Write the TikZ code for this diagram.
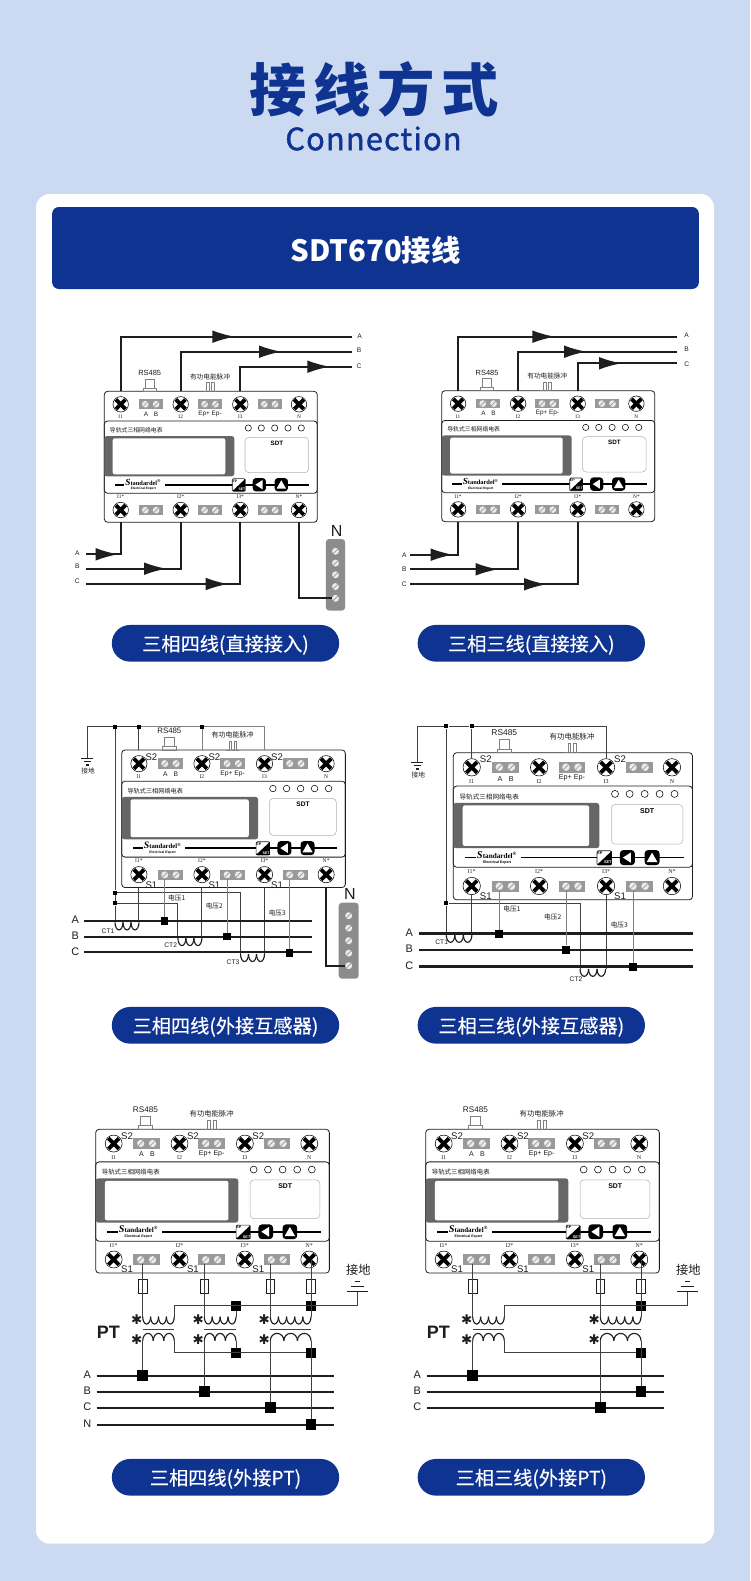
\documentclass[tikz,border=0pt]{standalone}
\usepackage{fontspec}
\usepackage{xcolor}
\usepackage{tikz}
\usetikzlibrary{arrows.meta}
\setmainfont{Liberation Sans}
\newfontfamily\cjk{Noto Sans CJK SC}
\newfontfamily\serifsmall{Liberation Serif}
\newfontfamily\symfont{DejaVu Sans}
\definecolor{navy}{HTML}{0F3390}
\definecolor{bgblue}{HTML}{CBDAF1}
\definecolor{panelgrey}{HTML}{666666}
\definecolor{portgrey}{HTML}{999999}
\definecolor{busgrey}{HTML}{8C8C8C}
\definecolor{inkdark}{HTML}{1E1E1E}

\newcommand{\meter}[4]{%
\begin{scope}[shift={(#2,#3)},scale=#4,every node/.append style={transform shape}]
\draw[casing,fill=white] (0,0) rectangle (213,131);
\draw[casing] (0,29.7) rectangle (213,102);
\fill[panelgrey,rounded corners=2pt] (0,44.7) rectangle (130,85);
\fill[white,rounded corners=1.5pt] (8.4,47) rectangle (121,83);
\draw[draw=gray!60,line width=.4pt,rounded corners=3pt] (140.7,46) rectangle (204.4,81.4);
\node[tinycjk](#1-name) at (32,39){\cjk 导轨式三相网络电表};
\node[tinybold](#1-sdt) at (172.7,52){SDT};
\foreach \k/\xx/\txt/\txb in {1/16.4/I1/I1*,2/76.4/I2/I2*,3/136/I3/I3*,4/194.7/N/N*}{
  \node[screw](#1-i\k) at (\xx,13){};
  \node[tinyserif](#1-il\k) at (\xx,25.7){\txt};
  \node[screw](#1-o\k) at (\xx,118.7){};
  \node[tinyserif](#1-ol\k) at (\xx,105.7){\txb};
  \coordinate (#1-t\k) at (\xx,0);
  \coordinate (#1-b\k) at (\xx,131);
}
\foreach \k/\xx in {1/46.4,2/105.7,3/165.4}{
  \node[portbox](#1-qt\k) at (\xx,12.9){};
  \node[hatch](#1-qa\k) at (\xx-5.4,12.9){};
  \node[hatch](#1-qb\k) at (\xx+5.4,12.9){};
  \node[portbox](#1-pt\k) at (\xx,118.9){};
  \node[hatch](#1-pa\k) at (\xx-5.4,118.9){};
  \node[hatch](#1-pb\k) at (\xx+5.4,118.9){};
}
\node[tinylabel](#1-la) at (41.7,23){A};
\node[tinylabel](#1-lb) at (51.7,23){B};
\node[tinylabel](#1-lep) at (105.7,22.6){Ep+ Ep-};
\foreach \k/\xx in {1/144,2/157,3/170.4,4/183.7,5/197}{
  \node[led](#1-led\k) at (\xx,36.7){};
}
\draw[line width=1.2pt] (10.7,93.4) -- (20,93.4);
\draw[line width=1.2pt] (60.7,93.4) -- (205,93.4);
\node[logotext](#1-logo) at (39,91.2){{\itshape\fontsize{7}{7}\selectfont S}tandardel\textsuperscript{\textregistered}};
\node[logosub](#1-logob) at (39,97.6){Electrical Expert};
\node[epbox](#1-ep) at (134.4,93.7){};
\fill[black] (141,87.6) -- (141,99.8) -- (128,99.8) -- cycle;
\node[eptext,text=black](#1-epa) at (130.6,89.6){EP};
\node[eptext,text=white](#1-epb) at (137.6,97.9){SET};
\node[keybtn](#1-kl) at (155,93.4){};
\node[keybtn](#1-ku) at (177,93.4){};
\fill[white] (151,93.4) -- (158.2,88.8) -- (158.2,98) -- cycle;
\fill[white] (177,89) -- (172.2,97.4) -- (181.8,97.4) -- cycle;
\node[rslabel](#1-rs) at (45.4,-18){RS485};
\draw[line width=.35pt,draw=gray] (40.7,-12.3) rectangle (49.7,-3.3);
\draw[line width=.35pt,draw=gray] (38.7,-3.3) rectangle (51.7,0);
\node[pulselabel](#1-pl) at (105.7,-14.5){\cjk 有功电能脉冲};
\draw[line width=.35pt,draw=gray] (99.7,0) -- (102,0) -- (102,-8.6) -- (104.5,-8.6) -- (104.5,0) -- (107,0) -- (107,-8.6) -- (109.5,-8.6) -- (109.5,0) -- (111.7,0);
\end{scope}}

\newcommand{\coil}[5]{%
\foreach \k in {1,...,#2}{
  \pgfmathsetmacro{\dx}{(\k-1)*2*#3}
  \draw[coilline] ([xshift=\dx pt]#1) arc[start angle=180,end angle=#5,x radius=#3pt,y radius=#4pt];
}}

\newcommand{\grd}[5]{%
\coordinate (#1) at (#2,#3);
\draw[gndline] (#2-#4*.5,#3) -- (#2+#4*.5,#3);
\draw[gndline] (#2-#4*.3,#3+#5) -- (#2+#4*.3,#3+#5);
\draw[gndline] (#2-#4*.13,#3+#5*2) -- (#2+#4*.13,#3+#5*2);
}

\newcommand{\busbar}[6]{%
\node[busbox,minimum width=#4,minimum height=#5](#1) at (#2,#3){};
\foreach \k in {-2,...,2}{
  \node[hatch,minimum size=5.2pt](#1-c\k) at (#2,#3+\k*#6){};
}}

\newcommand{\ptunit}[6]{%
\coordinate (#1-pl) at (#2,1316.7);
\coordinate (#1-pr) at (#3,1316.7);
\coordinate (#1-sl) at (#2,1340.7);
\coordinate (#1-sr) at (#3,1340.7);
\coil{#1-pl}{#4}{#5}{5.5}{360}
\coil{#1-sl}{3}{#6}{5.5}{0}
\draw[thinwire] (#2,1329.3) -- (#3,1329.3);
\node[starmark](#1-sa) at (#2-6,1319.5){✱};
\node[starmark](#1-sb) at (#2-6,1340){✱};
}

\begin{document}
\begin{tikzpicture}[x=.75pt,y=-.75pt]
\tikzset{>={Latex[width=9.5pt,length=17pt]}}
\tikzstyle{casing}=[draw=inkdark,line width=.6pt,rounded corners=2.5pt]
\tikzstyle{screw}=[circle,draw=black,line width=.4pt,fill=white,inner sep=0pt,minimum size=11.6pt,
  path picture={\draw[line width=2.9pt] (path picture bounding box.north west) ++(2.2pt,-2.2pt) -- ++(7.2pt,-7.2pt);
  \draw[line width=2.9pt] (path picture bounding box.north east) ++(-2.2pt,-2.2pt) -- ++(-7.2pt,-7.2pt);}]
\tikzstyle{portbox}=[fill=portgrey,inner sep=0pt,minimum width=18pt,minimum height=7.3pt]
\tikzstyle{hatch}=[circle,fill=white!92!black,inner sep=0pt,minimum size=5pt,
  path picture={\draw[gray!80,line width=.5pt] (path picture bounding box.south west) -- (path picture bounding box.north east);}]
\tikzstyle{led}=[circle,draw=black,line width=.4pt,inner sep=0pt,minimum size=4.7pt]
\tikzstyle{tinycjk}=[inner sep=0pt,font=\fontsize{4.4}{4.4}\selectfont,text=inkdark]
\tikzstyle{tinybold}=[inner sep=0pt,font=\fontsize{4.7}{4.7}\selectfont\bfseries]
\tikzstyle{tinyserif}=[inner sep=0pt,font=\fontsize{4}{4}\selectfont\serifsmall,text=inkdark]
\tikzstyle{tinylabel}=[inner sep=0pt,font=\fontsize{4.8}{4.8}\selectfont,text=inkdark]
\tikzstyle{rslabel}=[inner sep=0pt,font=\fontsize{5.6}{5.6}\selectfont,text=inkdark]
\tikzstyle{pulselabel}=[inner sep=0pt,font=\fontsize{5}{5}\selectfont,text=inkdark]
\tikzstyle{logotext}=[inner sep=0pt,font=\fontsize{4.8}{4.8}\selectfont\serifsmall\bfseries]
\tikzstyle{logosub}=[inner sep=0pt,font=\fontsize{2.4}{2.4}\selectfont\bfseries]
\tikzstyle{epbox}=[draw=inkdark,line width=.5pt,fill=white,rounded corners=1pt,inner sep=0pt,minimum size=9.6pt]
\tikzstyle{eptext}=[inner sep=0pt,font=\fontsize{2.6}{2.6}\selectfont\bfseries]
\tikzstyle{keybtn}=[fill=black,rounded corners=2.5pt,inner sep=0pt,minimum size=10pt]
\tikzstyle{wire}=[line width=1.45pt,draw=inkdark]
\tikzstyle{sig}=[line width=.7pt,draw=inkdark!85]
\tikzstyle{thinwire}=[line width=.75pt,draw=inkdark!85]
\tikzstyle{tapline}=[line width=.5pt,draw=gray]
\tikzstyle{coilline}=[line width=.85pt,draw=inkdark]
\tikzstyle{gndline}=[line width=.9pt,draw=inkdark]
\tikzstyle{phasewire}=[line width=1.3pt,draw=inkdark]
\tikzstyle{jct}=[rectangle,fill=black,inner sep=0pt,minimum size=3pt]
\tikzstyle{sq}=[rectangle,fill=black,inner sep=0pt,minimum size=5.6pt]
\tikzstyle{sqb}=[rectangle,fill=black,inner sep=0pt,minimum size=8pt]
\tikzstyle{fuse}=[draw=inkdark,line width=.5pt,inner sep=0pt,minimum width=6.5pt,minimum height=10.7pt]
\tikzstyle{busbox}=[fill=busgrey,rounded corners=2.5pt,inner sep=0pt]
\tikzstyle{phase}=[inner sep=3pt,font=\fontsize{5}{5}\selectfont,text=inkdark]
\tikzstyle{phaseb}=[inner sep=2pt,font=\fontsize{8.2}{8.2}\selectfont,text=inkdark]
\tikzstyle{phasec}=[inner sep=2pt,font=\fontsize{9}{9}\selectfont,text=inkdark]
\tikzstyle{smallcjk}=[inner sep=0pt,font=\fontsize{5}{5}\selectfont\cjk,text=inkdark]
\tikzstyle{ctlabel}=[inner sep=0pt,font=\fontsize{5}{5}\selectfont,text=inkdark]
\tikzstyle{slabel}=[inner sep=0pt,font=\fontsize{7.2}{7.2}\selectfont,text=inkdark]
\tikzstyle{nlabel}=[inner sep=0pt,font=\fontsize{12}{12}\selectfont,text=inkdark]
\tikzstyle{starmark}=[inner sep=0pt,font=\fontsize{10}{10}\selectfont\symfont,text=inkdark]
\tikzstyle{pill}=[fill=navy,rounded corners=13.7pt,inner sep=0pt,minimum width=170.5pt,minimum height=27.5pt,text height=13pt,text depth=1.4pt,text=white,font=\fontsize{14.4}{14.4}\selectfont\cjk\addfontfeature{FakeBold=.35}]

\useasboundingbox (0,0) rectangle (750,1581);
\fill[bgblue] (0,0) rectangle (750,1581);
\fill[white,rounded corners=10pt] (36,194) rectangle (714,1543.7);
\node[inner sep=0pt,text=navy,font=\fontsize{43}{43}\selectfont\cjk\bfseries](title) at (374.5,89){接\hspace{5pt}线\hspace{5pt}方\hspace{5pt}式};
\node[inner sep=0pt,text=navy,font=\fontsize{23}{23}\selectfont\cjk](subtitle) at (373.5,138.5){\addfontfeature{LetterSpace=4,FakeBold=1.4}Connection};
\node[fill=navy,rounded corners=5pt,inner sep=0pt,minimum width=485pt,minimum height=61.5pt,text height=22pt,text depth=2.2pt,text=white,font=\fontsize{22}{22}\selectfont\cjk\bfseries](head) at (375.5,248){SDT670接线};

\node[pill](pa) at (225.5,643.3){三相四线(直接接入)};
\node[pill](pb) at (531.3,643.3){三相三线(直接接入)};
\node[pill](pc) at (225.5,1025.3){三相四线(外接互感器)};
\node[pill](pd) at (531.3,1025.3){三相三线(外接互感器)};
\node[pill](pe) at (225.5,1477.3){三相四线(外接PT)};
\node[pill](pf) at (531.3,1477.3){三相三线(外接PT)};

\meter{ma}{104.3}{391.3}{1}
\foreach \n/\p/\lx/\ly/\wy/\tip in {1/A/359.7/336.7/336.7/235,2/B/359/350.7/351.7/281.7,3/C/359/365.7/366.7/330}{
  \node[phase](ma-tl\n) at (\lx,\ly){\p};
  \coordinate (ma-ta\n) at (\tip,\wy);
  \coordinate (ma-te\n) at (352.3,\wy);
  \draw[wire] (ma-t\n) |- (ma-te\n);
  \draw[wire,->] (ma-t\n) |- (ma-ta\n);
}
\foreach \n/\p/\ly/\wy/\tip in {1/A/552.7/554.3/118.3,2/B/566/568.7/166.7,3/C/581/584/228.3}{
  \node[phase](ma-bl\n) at (77.3,\ly){\p};
  \coordinate (ma-bs\n) at (86,\wy);
  \coordinate (ma-ba\n) at (\tip,\wy);
  \draw[wire] (ma-bs\n) -| (ma-b\n);
  \draw[wire,->] (ma-bs\n) -- (ma-ba\n);
}
\busbar{ma-bus}{335.5}{574.8}{14.5pt}{53.7pt}{11.75}
\node[nlabel](ma-n) at (336.7,530.7){N};
\draw[wire] (ma-b4) |- (ma-bus-c2);

\meter{mb}{441.7}{390.7}{1}
\foreach \n/\p/\ly/\wy/\tip in {1/A/335/336.7/555,2/B/349/351.7/586.7,3/C/364.3/363.3/621.7}{
  \node[phase](mb-tl\n) at (686.7,\ly){\p};
  \coordinate (mb-ta\n) at (\tip,\wy);
  \coordinate (mb-te\n) at (677.3,\wy);
  \draw[wire] (mb-t\n) |- (mb-te\n);
  \draw[wire,->] (mb-t\n) |- (mb-ta\n);
}
\foreach \n/\p/\wy/\tip in {1/A/554.7/453.3,2/B/569.3/498.3,3/C/584.3/546.7}{
  \node[phase](mb-bl\n) at (404.3,\wy){\p};
  \coordinate (mb-bs\n) at (410,\wy);
  \coordinate (mb-ba\n) at (\tip,\wy);
  \draw[wire] (mb-bs\n) -| (mb-b\n);
  \draw[wire,->] (mb-bs\n) -- (mb-ba\n);
}

\meter{mc}{121.7}{750}{1.05}
\foreach \n in {1,2,3}{
  \node[slabel](mc-s2\n) at ([shift={(12.5,-6.8)}]mc-i\n){S2};
  \node[slabel](mc-s1\n) at ([shift={(12.5,10.2)}]mc-o\n){S1};
}
\grd{mc-g}{87.3}{758.3}{12}{3.3}
\node[smallcjk](mc-gl) at (88,771){接地};
\node[jct](mc-j1) at (115,726.7){};
\node[jct](mc-j2) at (mc-t1 |- 0,726.7){};
\node[jct](mc-j3) at (mc-t2 |- 0,726.7){};
\node[jct](mc-j4) at (115,892.7){};
\node[jct](mc-j5) at (115,903.3){};
\draw[sig] (mc-g) |- (mc-j1) -- (mc-j2);
\draw[tapline] (mc-j2) -- (mc-j3) -| (mc-t3);
\draw[sig] (mc-j2) -- (mc-t1);
\draw[tapline] (mc-j3) -- (mc-t2);
\coordinate (mc-ct1) at (115,922.3);
\coordinate (mc-ct2) at (177.9,938);
\coordinate (mc-ct3) at (240.5,954);
\coil{mc-ct1}{3}{3}{5.7}{360}
\coil{mc-ct2}{3}{3}{5.7}{360}
\coil{mc-ct3}{3}{3}{5.7}{360}
\draw[sig] (mc-j1) -- (mc-j4) -- (mc-j5) -- (mc-ct1);
\draw[sig] (mc-j5) -| (mc-ct2);
\draw[sig] (mc-j4) -| (mc-ct3);
\draw[sig] (mc-b1) -- (mc-b1 |- mc-ct1);
\draw[sig] (mc-b2) -- (mc-b2 |- mc-ct2);
\draw[sig] (mc-b3) -- (mc-b3 |- mc-ct3);
\foreach \n/\p/\ly/\wy in {1/A/919.3/921,2/B/935.3/936.7,3/C/951.7/952.3}{
  \node[phaseb](mc-l\n) at (75.3,\ly){\p};
  \coordinate (mc-s\n) at (84,\wy);
  \coordinate (mc-e\n) at (311.7,\wy);
  \draw[phasewire] (mc-s\n) -- (mc-e\n);
}
\node[sq](mc-v1) at (mc-pa1 |- 0,921){};
\node[sq](mc-v2) at (mc-pa2 |- 0,936.7){};
\node[sq](mc-v3) at (mc-pa3 |- 0,953){};
\draw[tapline] (mc-pa1.south) -- (mc-v1);
\draw[tapline] (mc-pa2.south) -- (mc-v2);
\draw[tapline] (mc-pa3.south) -- (mc-v3);
\node[smallcjk](mc-u1) at (176.7,898.3){电压1};
\node[smallcjk](mc-u2) at (214.3,905.7){电压2};
\node[smallcjk](mc-u3) at (277.3,913.3){电压3};
\node[ctlabel](mc-c1) at (108,930.7){CT1};
\node[ctlabel](mc-c2) at (170.7,945.3){CT2};
\node[ctlabel](mc-c3) at (233,962.3){CT3};
\busbar{mc-bus}{348.7}{940.7}{15pt}{57pt}{12.5}
\node[nlabel](mc-n) at (350,894.3){N};
\draw[wire] (mc-b4) |- (mc-bus-c2);

\meter{md}{453.3}{752.7}{1.123}
\foreach \n in {1,3}{
  \node[slabel](md-s2\n) at ([shift={(14,-8.4)}]md-i\n){S2};
  \node[slabel](md-s1\n) at ([shift={(14,10)}]md-o\n){S1};
}
\grd{md-g}{417.3}{762.3}{12}{3.3}
\node[smallcjk](md-gl) at (418.3,775.3){接地};
\node[jct](md-j1) at (446.3,726.3){};
\node[jct](md-j2) at (md-i1 |- 0,726.3){};
\node[jct](md-j4) at (446.3,903.3){};
\draw[sig] (md-g) |- (md-j1) -- (md-j2) -| (md-i3.north);
\draw[sig] (md-j2) -- (md-i1.north);
\coordinate (md-ct1) at (446.3,935);
\coordinate (md-ct2) at (580,969);
\coil{md-ct1}{3}{3.2}{5.5}{360}
\coil{md-ct2}{3}{3.2}{5.5}{360}
\draw[sig] (md-j1) -- (md-j4) -- (md-ct1);
\draw[sig] (md-j4) -| (md-ct2);
\draw[sig] (md-o1.south) -- (md-o1 |- md-ct1);
\draw[sig] (md-o3.south) -- (md-o3 |- md-ct2);
\foreach \n/\p/\wy in {1/A/933.7,2/B/950,3/C/966.7}{
  \node[phaseb](md-l\n) at (409.3,\wy-1){\p};
  \coordinate (md-s\n) at (419,\wy);
  \coordinate (md-e\n) at (692.7,\wy);
  \draw[phasewire,line width=2pt] (md-s\n) -- (md-e\n);
}
\node[sq,minimum size=6pt](md-v1) at (md-pa1 |- 0,934){};
\node[sq,minimum size=6pt](md-v2) at (md-pa2 |- 0,949.7){};
\node[sq,minimum size=6pt](md-v3) at (md-pa3 |- 0,967.3){};
\draw[tapline] (md-pa1.south) -- (md-v1);
\draw[tapline] (md-pa2.south) -- (md-v2);
\draw[tapline] (md-pa3.south) -- (md-v3);
\node[smallcjk](md-u1) at (512,909){电压1};
\node[smallcjk](md-u2) at (552.7,916.7){电压2};
\node[smallcjk](md-u3) at (619.3,925.3){电压3};
\node[ctlabel](md-c1) at (441.7,942.3){CT1};
\node[ctlabel](md-c2) at (576,979.3){CT2};

\meter{me}{95.7}{1129.3}{1.097}
\foreach \n in {1,2,3}{
  \node[slabel](me-s2\n) at ([shift={(13.4,-7.4)}]me-i\n){S2};
  \node[slabel](me-s1\n) at ([shift={(13.4,9.4)}]me-o\n){S1};
}
\ptunit{pe1}{142.7}{174.3}{4}{2.96}{3.95}
\ptunit{pe2}{204.3}{236}{4}{2.97}{3.96}
\ptunit{pe3}{270.3}{311}{5}{3.05}{5.09}
\node[fuse](me-f1) at (142.7,1286.2){};
\node[fuse](me-f2) at (204.3,1286.2){};
\node[fuse](me-f3) at (270.3,1286.2){};
\node[fuse](me-f4) at (311,1286.2){};
\node[phasec,inner sep=0pt](me-pt) at (108.3,1332.7){\bfseries\fontsize{13.5}{13.5}\selectfont PT};
\node[inner sep=0pt,font=\fontsize{9.2}{9.2}\selectfont\cjk,text=inkdark](me-gl) at (358.3,1270.3){接地};
\grd{me-g}{357.7}{1291.7}{21}{-5.3}
\coordinate (me-tee) at (357.7,1305.7);
\node[sq,minimum size=7.2pt](me-k2) at (pe2-pr |- me-tee){};
\node[sq,minimum size=7.2pt](me-k3) at (pe3-pr |- me-tee){};
\node[sq,minimum size=7.2pt](me-m2) at (pe2-sr |- 0,1352.7){};
\node[sq,minimum size=7.2pt](me-m3) at (pe3-sr |- 0,1352.7){};
\foreach \n/\p/\wy in {1/A/1375.7,2/B/1391.7,3/C/1407.7,4/N/1424.7}{
  \node[phaseb](me-l\n) at (87.3,\wy-1){\p};
  \coordinate (me-s\n) at (96.7,\wy);
  \coordinate (me-e\n) at (334.3,\wy);
  \draw[phasewire] (me-s\n) -- (me-e\n);
}
\node[sqb](me-n1) at (pe1-sl |- me-s1){};
\node[sqb](me-n2) at (pe2-sl |- me-s2){};
\node[sqb](me-n3) at (pe3-sl |- me-s3){};
\node[sqb](me-n4) at (pe3-sr |- me-s4){};
\draw[thinwire] (me-pa1.south -| pe1-pl) -- (pe1-pl);
\draw[thinwire] (me-pa2.south -| pe2-pl) -- (pe2-pl);
\draw[thinwire] (me-pa3.south -| pe3-pl) -- (pe3-pl);
\draw[thinwire] (me-o4.center -| pe3-pr) -- (pe3-pr);
\draw[thinwire] (pe1-pr) |- (me-tee) -- (me-g);
\draw[thinwire] (pe2-pr) -- (me-k2);
\draw[thinwire] (pe1-sr) |- (me-m3);
\draw[thinwire] (pe2-sr) -- (me-m2);
\draw[thinwire] (pe3-sr) -- (me-n4);
\draw[thinwire] (pe1-sl) -- (me-n1);
\draw[thinwire] (pe2-sl) -- (me-n2);
\draw[thinwire] (pe3-sl) -- (me-n3);

\meter{mf}{425.7}{1129.3}{1.097}
\foreach \n in {1,2,3}{
  \node[slabel](mf-s2\n) at ([shift={(13.4,-7.4)}]mf-i\n){S2};
  \node[slabel](mf-s1\n) at ([shift={(13.4,9.4)}]mf-o\n){S1};
}
\ptunit{pf1}{472.7}{504.3}{4}{2.96}{3.95}
\ptunit{pf3}{600.3}{641}{5}{3.05}{5.09}
\node[fuse](mf-f1) at (472.7,1286.2){};
\node[fuse](mf-f3) at (600.3,1286.2){};
\node[fuse](mf-f4) at (641,1286.2){};
\node[phasec,inner sep=0pt](mf-pt) at (438.3,1332.7){\bfseries\fontsize{13.5}{13.5}\selectfont PT};
\node[inner sep=0pt,font=\fontsize{9.2}{9.2}\selectfont\cjk,text=inkdark](mf-gl) at (688.3,1270.3){接地};
\grd{mf-g}{687.7}{1291.7}{21}{-5.3}
\coordinate (mf-tee) at (687.7,1305.7);
\node[sq,minimum size=7.2pt](mf-k3) at (pf3-pr |- mf-tee){};
\node[sq,minimum size=7.2pt](mf-m3) at (pf3-sr |- 0,1352.7){};
\foreach \n/\p/\wy in {1/A/1375.7,2/B/1391.7,3/C/1407.7}{
  \node[phaseb](mf-l\n) at (417.3,\wy-1){\p};
  \coordinate (mf-s\n) at (426.7,\wy);
  \coordinate (mf-e\n) at (664.3,\wy);
  \draw[phasewire] (mf-s\n) -- (mf-e\n);
}
\node[sqb](mf-n1) at (pf1-sl |- mf-s1){};
\node[sqb](mf-n2) at (pf3-sr |- mf-s2){};
\node[sqb](mf-n3) at (pf3-sl |- mf-s3){};
\draw[thinwire] (mf-pa1.south -| pf1-pl) -- (pf1-pl);
\draw[thinwire] (mf-pa3.south -| pf3-pl) -- (pf3-pl);
\draw[thinwire] (mf-o4.center -| pf3-pr) -- (pf3-pr);
\draw[thinwire] (pf1-pr) |- (mf-tee) -- (mf-g);
\draw[thinwire] (pf1-sr) |- (mf-m3);
\draw[thinwire] (pf3-sr) -- (mf-n2);
\draw[thinwire] (pf1-sl) -- (mf-n1);
\draw[thinwire] (pf3-sl) -- (mf-n3);

\end{tikzpicture}
\end{document}
